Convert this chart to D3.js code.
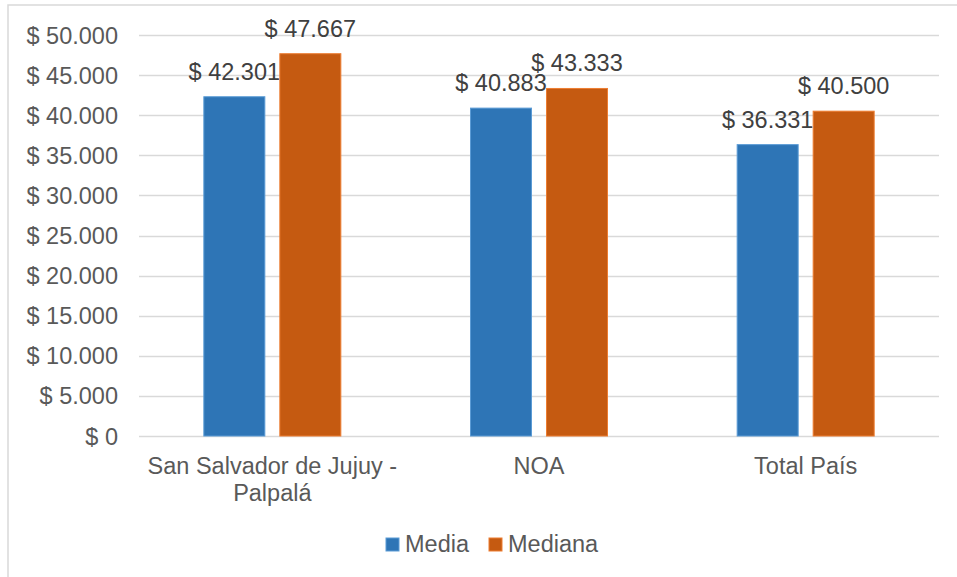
<!DOCTYPE html>
<html>
<head>
<meta charset="utf-8">
<script src="https://cdn.jsdelivr.net/npm/d3@7"></script>
<style>
  body { margin: 0; background: #fff; }
  text { font-family: "Liberation Sans", Arial, sans-serif; }
</style>
</head>
<body>
<div id="chart"></div>
<script>
const categories = [["San Salvador de Jujuy -", "Palpalá"], ["NOA"], ["Total País"]]
const seriesNames = ["Media", "Mediana"]
const media = [42301, 40883, 36331]
const mediana = [47667, 43333, 40500]
const yTicks = [0, 5000, 10000, 15000, 20000, 25000, 30000, 35000, 40000, 45000, 50000]

const fills = ["#2e75b6", "#c55a11"]
const strokes = ["#5b9bd5", "#ed7d31"]

const W = 957, H = 577
const plot = { left: 139, right: 939, top: 35, bottom: 436 }
const fontSize = 23.5

const svg = d3.select("#chart").append("svg")
    .attr("width", W)
    .attr("height", H)

// chart frame (only top and left edges are visible)
svg.append("rect")
    .attr("x", 8).attr("y", 5)
    .attr("width", 960).attr("height", 590)
    .attr("fill", "none")
    .attr("stroke", "#d9d9d9")
    .attr("stroke-width", 1.5)

const fmt = (v) => "$ " + d3.format(",")(v).replace(/,/g, ".")

let y = d3.scaleLinear().domain([0, 50000]).range([plot.bottom, plot.top])
let x = d3.scaleBand().domain(d3.range(categories.length)).range([plot.left, plot.right])

// gridlines
svg.append("g").selectAll("line").data(yTicks).enter()
    .append("line")
    .attr("x1", plot.left).attr("x2", plot.right)
    .attr("y1", (d) => Math.round(y(d)) + 0.5)
    .attr("y2", (d) => Math.round(y(d)) + 0.5)
    .attr("stroke", "#d9d9d9")
    .attr("stroke-width", 1.5)

// y labels
svg.append("g").selectAll("text").data(yTicks).enter()
    .append("text")
    .attr("x", 118)
    .attr("y", (d) => y(d) + 8.5)
    .attr("text-anchor", "end")
    .attr("font-size", fontSize)
    .attr("fill", "#595959")
    .text(fmt)

const barW = 61, gap = 15
const barX = (i, s) => x(i) + x.bandwidth() / 2 + (s === 0 ? -gap / 2 - barW : gap / 2)

const series = [media, mediana]
series.forEach((vals, s) => {
    let g = svg.append("g")
    g.selectAll("rect").data(vals).enter()
        .append("rect")
        .attr("x", (d, i) => barX(i, s))
        .attr("y", (d) => y(d))
        .attr("width", barW)
        .attr("height", (d) => y(0) - y(d))
        .attr("fill", fills[s])
        .attr("stroke", strokes[s])
        .attr("stroke-width", 1)
    g.selectAll("text").data(vals).enter()
        .append("text")
        .attr("x", (d, i) => barX(i, s) + barW / 2)
        .attr("y", (d) => y(d) - 17)
        .attr("text-anchor", "middle")
        .attr("font-size", fontSize)
        .attr("fill", "#404040")
        .text(fmt)
})

// category labels
let cats = svg.append("g").selectAll("text").data(categories).enter()
    .append("text")
    .attr("text-anchor", "middle")
    .attr("font-size", fontSize)
    .attr("fill", "#595959")
    .attr("transform", (d, i) => "translate(" + (x(i) + x.bandwidth() / 2) + "," + 474 + ")")
cats.selectAll("tspan").data((d) => d).enter()
    .append("tspan")
    .attr("x", 0)
    .attr("dy", (d, i) => i === 0 ? 0 : 27)
    .text((d) => d)

// legend
const legendX = [386, 489]
let legend = svg.append("g").selectAll("g").data(seriesNames).enter()
    .append("g")
    .attr("transform", (d, i) => "translate(" + legendX[i] + ",538)")
legend.append("rect")
    .attr("width", 13).attr("height", 13)
    .attr("fill", (d, i) => fills[i])
    .attr("stroke", (d, i) => strokes[i])
legend.append("text")
    .attr("x", 19).attr("y", 14)
    .attr("font-size", fontSize)
    .attr("fill", "#595959")
    .text((d) => d)
</script>
</body>
</html>
